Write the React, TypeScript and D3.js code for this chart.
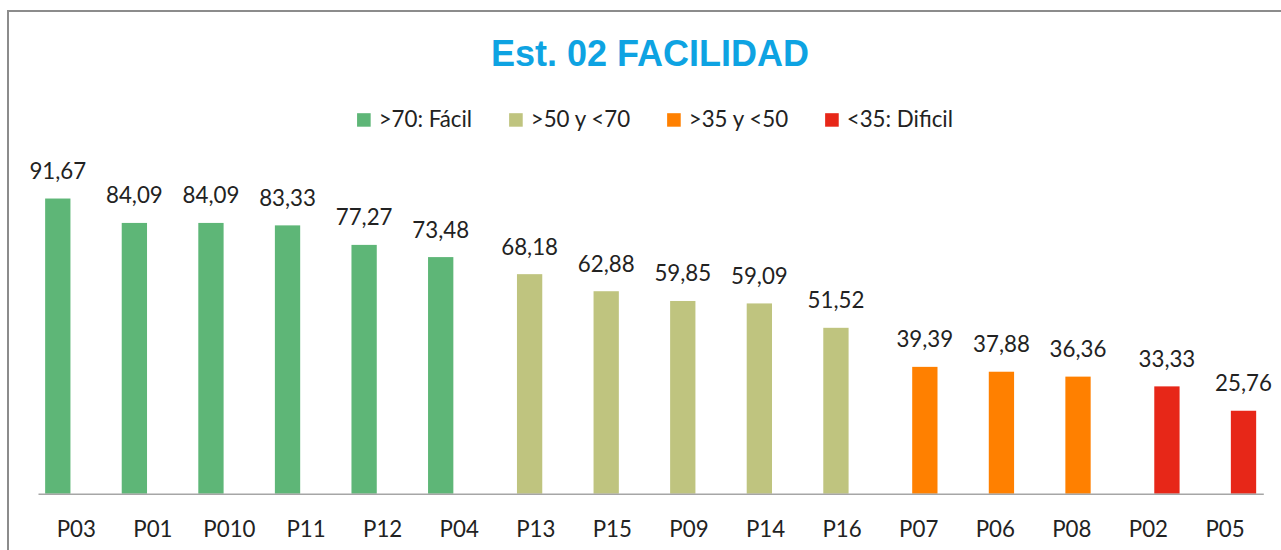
import React, { useEffect, useRef } from "react";
import * as d3 from "d3";

const categories = ["P03", "P01", "P010", "P11", "P12", "P04", "P13", "P15", "P09", "P14", "P16", "P07", "P06", "P08", "P02", "P05"];
const values = [91.67, 84.09, 84.09, 83.33, 77.27, 73.48, 68.18, 62.88, 59.85, 59.09, 51.52, 39.39, 37.88, 36.36, 33.33, 25.76];
const groupOf = [0, 0, 0, 0, 0, 0, 1, 1, 1, 1, 1, 2, 2, 2, 3, 3];
const seriesNames = [">70: Fácil", ">50 y <70", ">35 y <50", "<35: Dificil"];
const seriesColors = ["#5eb677", "#bfc47f", "#ff8000", "#e72718"];
const titleText = "Est. 02 FACILIDAD";

const W = 1281;
const H = 550;
const labelFont = "Lato, 'Noto Sans', sans-serif";
const textColor = "#222222";

export default function App() {
  const ref = useRef<SVGSVGElement | null>(null);

  useEffect(() => {
    const svg = d3.select(ref.current);
    svg.selectAll("*").remove();

    // frame
    svg.append("rect")
      .attr("x", 8).attr("y", 11)
      .attr("width", 1300).attr("height", 600)
      .attr("fill", "#ffffff")
      .attr("stroke", "#8c8c8c")
      .attr("stroke-width", 2);

    // title
    svg.append("text")
      .attr("x", 650).attr("y", 65.5)
      .attr("text-anchor", "middle")
      .attr("font-family", "'Liberation Sans', Arial, sans-serif")
      .attr("font-weight", "bold")
      .attr("font-size", 36)
      .attr("fill", "#0ea3e2")
      .text(titleText);

    // scales
    const x0 = d3.scaleBand<string>().domain(categories).range([38, 1263.3]).paddingInner(0).paddingOuter(0);
    const x1 = d3.scalePoint<number>().domain([0, 1, 2, 3]).range([-18.5, 18.5]);
    const barW = 25.3;
    const y = d3.scaleLinear().domain([0, 100]).range([493.7, 171.7]);

    const loc = d3.formatLocale({ decimal: ",", thousands: ".", grouping: [3], currency: ["", ""] });
    const fmt = loc.format(".2f");

    const g = svg.append("g");
    const rows = categories.map((c, i) => ({ c, v: values[i], s: groupOf[i] }));

    g.selectAll("rect.bar")
      .data(rows)
      .join("rect")
      .attr("class", "bar")
      .attr("x", (d) => (x0(d.c) as number) + x0.bandwidth() / 2 + (x1(d.s) as number) - barW / 2)
      .attr("y", (d) => y(d.v))
      .attr("width", barW)
      .attr("height", (d) => y(0) - y(d.v))
      .attr("fill", (d) => seriesColors[d.s]);

    g.selectAll("text.val")
      .data(rows)
      .join("text")
      .attr("class", "val")
      .attr("x", (d) => (x0(d.c) as number) + x0.bandwidth() / 2 + (x1(d.s) as number))
      .attr("y", (d) => y(d.v) - 19.5)
      .attr("text-anchor", "middle")
      .attr("font-family", labelFont)
      .attr("font-size", 22.3)
      .attr("fill", textColor)
      .text((d) => fmt(d.v));

    // axis
    const axis = d3.axisBottom(x0).tickSize(0).tickPadding(0);
    const ax = svg.append("g").attr("transform", `translate(0,${y(0)})`).call(axis);
    ax.select(".domain").attr("stroke", "#a6a6a6").attr("stroke-width", 1.6);
    ax.selectAll(".tick line").remove();
    ax.selectAll(".tick text")
      .attr("dy", 0)
      .attr("y", 43)
      .attr("font-family", labelFont)
      .attr("font-size", 22.3)
      .attr("fill", textColor);

    // legend
    const lg = svg.append("g");
    const sq = 13.6;
    const sqGap = 8;
    const itemGap = 37;
    const items = seriesNames.map((name, i) => {
      const it = lg.append("g");
      it.append("rect")
        .attr("x", 0).attr("y", 113.2)
        .attr("width", sq).attr("height", 13.5)
        .attr("fill", seriesColors[i]);
      const t = it.append("text")
        .attr("x", sq + sqGap).attr("y", 126.7)
        .attr("font-family", labelFont)
        .attr("font-size", 22.3)
        .attr("fill", textColor)
        .text(name);
      const tw = (t.node() as SVGTextElement).getComputedTextLength();
      return { it, w: sq + sqGap + tw };
    });
    const total = d3.sum(items, (d) => d.w) + itemGap * (items.length - 1);
    let cx = 655 - total / 2;
    items.forEach((d) => {
      d.it.attr("transform", `translate(${cx},0)`);
      cx += d.w + itemGap;
    });
  }, []);

  return (
    <svg
      ref={ref}
      width={W}
      height={H}
      style={{ position: "fixed", left: 0, top: 0, background: "#ffffff" }}
    />
  );
}
